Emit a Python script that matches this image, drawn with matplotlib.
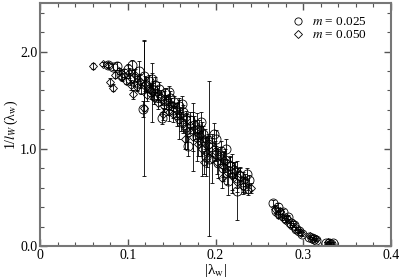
import numpy as np
import matplotlib
matplotlib.use("Agg")
import matplotlib.pyplot as plt
from matplotlib.ticker import MultipleLocator, FixedFormatter, FixedLocator

# m = 0.025 (circles)
x_025 = [0.078, 0.083, 0.088, 0.092, 0.096, 0.100, 0.102, 0.105, 0.107, 0.110,
         0.113, 0.115, 0.117, 0.118, 0.121, 0.124, 0.126, 0.129, 0.131, 0.134,
         0.136, 0.139, 0.141, 0.143, 0.146, 0.148, 0.151, 0.153, 0.156, 0.158,
         0.161, 0.163, 0.166, 0.169, 0.171, 0.174, 0.176, 0.179, 0.181, 0.184,
         0.186, 0.189, 0.191, 0.193, 0.196, 0.198, 0.201, 0.203, 0.206, 0.208,
         0.211, 0.214, 0.216, 0.219, 0.221, 0.224, 0.225, 0.228, 0.231, 0.234,
         0.238, 0.266, 0.269, 0.271, 0.274, 0.277, 0.280, 0.283, 0.286, 0.289,
         0.292, 0.295, 0.299, 0.307, 0.310, 0.312, 0.315, 0.326, 0.329, 0.332,
         0.334, 0.128, 0.147, 0.162, 0.183, 0.200, 0.212, 0.236]
y_025 = [1.86, 1.84, 1.85, 1.76, 1.78, 1.82, 1.72, 1.86, 1.73, 1.68,
         1.80, 1.62, 1.41, 1.75, 1.66, 1.70, 1.58, 1.60, 1.66, 1.54,
         1.62, 1.32, 1.50, 1.57, 1.45, 1.52, 1.40, 1.48, 1.35, 1.44,
         1.28, 1.38, 1.22, 1.03, 1.30, 1.18, 1.25, 1.12, 1.20, 1.08,
         1.15, 0.92, 1.05, 0.90, 1.02, 1.15, 0.95, 0.85, 0.98, 0.80,
         0.88, 0.67, 0.82, 0.75, 0.78, 0.70, 0.57, 0.72, 0.66, 0.62,
         0.68, 0.44, 0.36, 0.40, 0.33, 0.35, 0.28, 0.30, 0.24, 0.22,
         0.18, 0.15, 0.12, 0.09, 0.08, 0.07, 0.06, 0.03, 0.03, 0.02,
         0.03, 1.72, 1.58, 1.46, 1.28, 1.10, 1.00, 0.74]
e_025 = [0.03, 0.03, 0.04, 0.05, 0.04, 0.05, 0.06, 0.05, 0.08, 0.07,
         0.10, 0.06, 0.08, 0.36, 0.08, 0.06, 0.07, 0.10, 0.08, 0.06,
         0.07, 0.06, 0.09, 0.06, 0.10, 0.07, 0.08, 0.06, 0.12, 0.08,
         0.10, 0.07, 0.15, 0.10, 0.08, 0.20, 0.09, 0.25, 0.10, 0.15,
         0.08, 0.20, 0.10, 0.80, 0.09, 0.12, 0.08, 0.15, 0.10, 0.09,
         0.12, 0.15, 0.10, 0.20, 0.08, 0.10, 0.30, 0.08, 0.10, 0.07,
         0.05, 0.03, 0.03, 0.04, 0.03, 0.03, 0.03, 0.02, 0.02, 0.02,
         0.02, 0.02, 0.02, 0.01, 0.01, 0.01, 0.01, 0.01, 0.01, 0.01,
         0.01, 0.06, 0.07, 0.08, 0.10, 0.09, 0.10, 0.06]

# m = 0.050 (diamonds)
x_050 = [0.060, 0.072, 0.077, 0.080, 0.085, 0.090, 0.094, 0.098, 0.101, 0.104,
         0.108, 0.111, 0.114, 0.118, 0.120, 0.122, 0.125, 0.128, 0.130, 0.133,
         0.135, 0.138, 0.141, 0.144, 0.147, 0.149, 0.152, 0.155, 0.158, 0.160,
         0.163, 0.166, 0.168, 0.171, 0.174, 0.177, 0.180, 0.182, 0.185, 0.188,
         0.190, 0.193, 0.196, 0.199, 0.202, 0.205, 0.208, 0.210, 0.213, 0.216,
         0.219, 0.222, 0.225, 0.228, 0.231, 0.234, 0.237, 0.240, 0.268, 0.271,
         0.273, 0.276, 0.279, 0.282, 0.285, 0.288, 0.291, 0.294, 0.297, 0.308,
         0.311, 0.314, 0.328, 0.331, 0.083, 0.106, 0.140, 0.165, 0.187, 0.207]
y_050 = [1.85, 1.87, 1.86, 1.69, 1.76, 1.80, 1.74, 1.70, 1.78, 1.66,
         1.76, 1.64, 1.70, 1.42, 1.67, 1.55, 1.62, 1.58, 1.52, 1.58,
         1.47, 1.53, 1.44, 1.48, 1.38, 1.46, 1.36, 1.40, 1.30, 1.35,
         1.26, 1.32, 1.18, 1.25, 1.12, 1.20, 1.05, 1.14, 1.00, 1.10,
         0.96, 1.04, 0.90, 0.98, 0.86, 0.93, 0.82, 0.88, 0.76, 0.84,
         0.72, 0.78, 0.66, 0.74, 0.62, 0.68, 0.58, 0.60, 0.38, 0.32,
         0.36, 0.30, 0.27, 0.29, 0.22, 0.24, 0.18, 0.16, 0.13, 0.10,
         0.08, 0.07, 0.04, 0.03, 1.63, 1.56, 1.36, 1.10, 0.86, 0.70]
e_050 = [0.03, 0.02, 0.02, 0.04, 0.03, 0.03, 0.04, 0.03, 0.05, 0.05,
         0.06, 0.05, 0.07, 0.70, 0.08, 0.06, 0.05, 0.30, 0.06, 0.07,
         0.06, 0.08, 0.06, 0.07, 0.09, 0.06, 0.08, 0.07, 0.20, 0.08,
         0.10, 0.07, 0.18, 0.09, 0.35, 0.10, 0.12, 0.09, 0.28, 0.10,
         0.15, 0.09, 0.25, 0.10, 0.12, 0.09, 0.15, 0.10, 0.12, 0.09,
         0.14, 0.08, 0.10, 0.07, 0.09, 0.06, 0.06, 0.05, 0.04, 0.03,
         0.03, 0.03, 0.02, 0.02, 0.02, 0.02, 0.02, 0.02, 0.02, 0.01,
         0.01, 0.01, 0.01, 0.01, 0.04, 0.05, 0.06, 0.10, 0.12, 0.10]

plt.rcParams['font.family'] = ['Liberation Serif', 'DejaVu Serif']
plt.rcParams['mathtext.fontset'] = 'stix'

fig = plt.figure(figsize=(3.99, 2.80), dpi=100)
ax = fig.add_axes([40 / 399, 1 - 246 / 280, 351 / 399, 243 / 280])

ax.errorbar(x_025, y_025, yerr=e_025, fmt='none', ecolor='black',
            elinewidth=0.6, capsize=1.5, capthick=0.6)
ax.errorbar(x_050, y_050, yerr=e_050, fmt='none', ecolor='black',
            elinewidth=0.6, capsize=1.5, capthick=0.6)
ax.plot(x_025, y_025, 'o', ms=6.5, mfc='none', mec='black', mew=0.6,
        label=r'$m$ = 0.025')
ax.plot(x_050, y_050, 'D', ms=4.5, mfc='none', mec='black', mew=0.6,
        label=r'$m$ = 0.050')

ax.set_xlim(0, 0.4)
ax.set_ylim(0, 2.5)
ax.xaxis.set_major_locator(FixedLocator([0, 0.1, 0.2, 0.3, 0.4]))
ax.xaxis.set_major_formatter(FixedFormatter(['0', '0.1', '0.2', '0.3', '0.4']))
ax.xaxis.set_minor_locator(MultipleLocator(0.02))
ax.yaxis.set_major_locator(FixedLocator([0, 1, 2]))
ax.yaxis.set_major_formatter(FixedFormatter(['0.0', '1.0', '2.0']))
ax.yaxis.set_minor_locator(MultipleLocator(0.2))
ax.tick_params(which='both', direction='in', top=True, right=True,
               labelsize=10, color='#555555', pad=2)
ax.tick_params(which='major', length=5, width=1)
ax.tick_params(which='minor', length=3, width=0.8)
for s in ax.spines.values():
    s.set_color('#777777')
    s.set_linewidth(1.5)

ax.set_xlabel('|λ$_{\\rm w}$|', fontsize=11, labelpad=0)
ax.set_ylabel(r'1/$l_W\,$(λ$_{\rm w}$)', fontsize=10)
ax.yaxis.set_label_coords(-0.058, 0.5)

ax.legend(loc='upper right', frameon=False, fontsize=9.5, handletextpad=0.5,
          borderaxespad=0.6, labelspacing=0.05, handlelength=1.2,
          markerscale=0.8, bbox_to_anchor=(0.97, 1.0))

fig.savefig('out.png', dpi=100)
